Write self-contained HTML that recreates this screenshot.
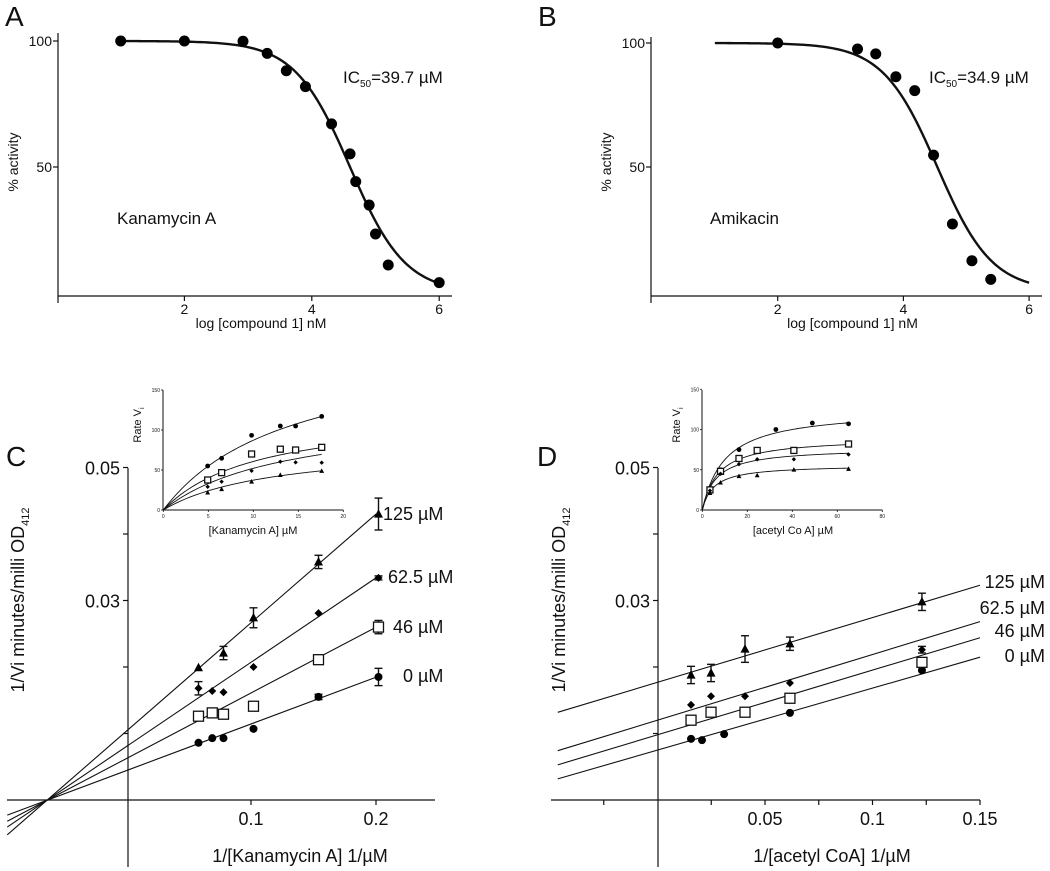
<!DOCTYPE html>
<html><head><meta charset="utf-8"><style>
html,body{margin:0;padding:0;background:#fff;}
svg{display:block;font-family:"Liberation Sans",Arial,sans-serif;}
</style></head>
<body>
<svg id="fig" width="1050" height="871" viewBox="0 0 1050 871" xmlns="http://www.w3.org/2000/svg"></svg>
<script>
// ---------- Panel A data ----------
const aLogConc = [1.0, 2.0, 2.92, 3.30, 3.60, 3.90, 4.31, 4.60, 4.69, 4.90, 5.0, 5.20, 6.0];
const aActivity = [100, 100, 99.9, 95.1, 88.2, 81.9, 67.1, 55.2, 44.2, 34.9, 23.4, 11.1, 4.1];
const aFit = [4.6, 1.0]; // logIC50, hill
// ---------- Panel B data ----------
const bLogConc = [2.0, 3.27, 3.56, 3.88, 4.18, 4.48, 4.78, 5.09, 5.39];
const bActivity = [100, 97.6, 95.6, 86.4, 80.8, 54.8, 27, 12.2, 4.7];
const bFit = [4.54, 1.0];
const dosesXTicks = [2, 4, 6];
const dosesYTicks = [50, 100];
// ---------- Panel C data ----------
const cSeriesNames = ["0 µM", "46 µM", "62.5 µM", "125 µM"];
const cX0 = [0.058, 0.069, 0.078, 0.102, 0.154, 0.202];
const cY0 = [0.0086, 0.0093, 0.0093, 0.0107, 0.0155, 0.0185];
const cE0 = [0, 0, 0, 0, 0.0004, 0.0013];
const cX46 = [0.058, 0.069, 0.078, 0.102, 0.154, 0.202];
const cY46 = [0.0126, 0.0131, 0.0129, 0.0141, 0.0211, 0.026];
const cE46 = [0, 0, 0, 0, 0, 0.001];
const cX62 = [0.058, 0.069, 0.078, 0.102, 0.154, 0.202];
const cY62 = [0.0168, 0.0164, 0.0162, 0.02, 0.0281, 0.0334];
const cE62 = [0.001, 0, 0, 0, 0, 0.0003];
const cX125 = [0.058, 0.078, 0.102, 0.154, 0.202];
const cY125 = [0.0199, 0.0221, 0.0274, 0.0358, 0.043];
const cE125 = [0, 0.001, 0.0015, 0.001, 0.0024];
const cSlopes = [0.0703, 0.0989, 0.127, 0.1635];
const cIntercepts = [0.0044, 0.0062, 0.0080, 0.0103];
// ---------- Panel D data ----------
const dX0 = [0.0156, 0.0207, 0.031, 0.0616, 0.123];
const dY0 = [0.0092, 0.009, 0.0099, 0.0131, 0.0195];
const dX46 = [0.0156, 0.0249, 0.0407, 0.0616, 0.123];
const dY46 = [0.012, 0.0132, 0.0132, 0.0153, 0.0207];
const dX62 = [0.0156, 0.0249, 0.0407, 0.0616, 0.123];
const dY62 = [0.0143, 0.0156, 0.0156, 0.0176, 0.0226];
const dE62 = [0, 0, 0, 0, 0.0005];
const dX125 = [0.0156, 0.0249, 0.0407, 0.0616, 0.123];
const dY125 = [0.0188, 0.0191, 0.0227, 0.0235, 0.0298];
const dE125 = [0.0013, 0.0013, 0.002, 0.001, 0.0013];
const dSlopes = [0.0932, 0.0973, 0.0988, 0.0973];
const dIntercepts = [0.0075, 0.0098, 0.0120, 0.0177];
// ---------- Inset C data ----------
const icX = [4.93, 6.48, 9.81, 13.0, 14.7, 17.6];
const icCircle = [55, 64.6, 93.3, 105, 105, 117];
const icSquare = [37.5, 46.7, 70, 76, 75, 78.3];
const icDiamond = [29, 35.4, 49, 60.4, 59.6, 59.2];
const icTriX = [4.93, 6.48, 9.81, 13.0, 17.6];
const icTri = [21.7, 26, 35.4, 43.7, 48.8];
const icVmax = [211, 125, 124, 83.5];
const icKm = [14.2, 10.6, 13.8, 12.4];
// ---------- Inset D data ----------
const idX = [3.4, 8.1, 16.3, 32.7, 48.9, 65];
const idCircle = [27, 50, 75, 100, 108, 107];
const idSqX = [3.4, 8.1, 16.3, 24.4, 40.7, 65];
const idSquare = [25, 48, 64, 74, 74, 82];
const idX2 = [3.4, 8.1, 16.3, 24.4, 40.7, 65];
const idDiamond = [24, 45, 57, 63, 63, 69];
const idTri = [21, 34, 42, 43, 50, 51];
const idVmax = [125, 90, 77, 56];
const idKm = [10, 7, 6, 5];

const NS = "http://www.w3.org/2000/svg";
const svg = document.getElementById("fig");
function mk(tag, attrs, name, parent) {
  const el = document.createElementNS(NS, tag);
  for (const k in attrs) el.setAttribute(k, attrs[k]);
  
  
  (parent || svg).appendChild(el);
  return el;
}
function txt(x, y, s, size, anchor, name, extra) {
  const t = mk("text", Object.assign({x: x, y: y, "font-size": size, "text-anchor": anchor || "start", fill: "#111"}, extra || {}), name);
  t.textContent = s;
  return t;
}
function line(x1, y1, x2, y2, name, w) {
  return mk("line", {x1: x1, y1: y1, x2: x2, y2: y2, stroke: "#111", "stroke-width": w || 1.2}, name);
}
function marker(type, cx, cy, s, name) {
  if (type === "circle") return mk("circle", {cx: cx, cy: cy, r: s, fill: "#000"}, name);
  if (type === "square") return mk("rect", {x: cx - s, y: cy - s, width: 2 * s, height: 2 * s, fill: "#fff", stroke: "#111", "stroke-width": 1.3}, name);
  if (type === "diamond") return mk("polygon", {points: `${cx},${cy - s} ${cx + s},${cy} ${cx},${cy + s} ${cx - s},${cy}`, fill: "#000"}, name);
  return mk("polygon", {points: `${cx},${cy - s * 1.1} ${cx + s},${cy + s * 0.8} ${cx - s},${cy + s * 0.8}`, fill: "#000"}, name);
}
function pathFrom(fn, x0, x1, X, Y, n, name, w) {
  let d = "";
  for (let i = 0; i <= n; i++) {
    const v = x0 + (x1 - x0) * i / n;
    d += (i ? "L" : "M") + X(v).toFixed(2) + "," + Y(fn(v)).toFixed(2);
  }
  return mk("path", {d: d, fill: "none", stroke: "#111", "stroke-width": w || 1.2}, name);
}

// ================= Panels A & B =================
function dosePanel(p) {
  const X = p.X, Y = p.Y;
  line(p.ax, p.yTop, p.ax, 303, p.id + "-y-axis");
  line(p.ax, 296, p.xEnd, 296, p.id + "-x-axis");
  dosesXTicks.forEach(v => {
    line(X(v), 296, X(v), 301, p.id + "-x-tick");
    txt(X(v), 314, String(v), 14, "middle", p.id + "-x-tick-label");
  });
  dosesYTicks.forEach(v => {
    line(p.ax - 5, Y(v), p.ax, Y(v), p.id + "-y-tick");
    txt(p.ax - 6, Y(v) + 5, String(v), 14, "end", p.id + "-y-tick-label");
  });
  const fit = p.fit;
  pathFrom(v => 100 / (1 + Math.pow(10, fit[1] * (v - fit[0]))), 1, 6, X, Y, 120, p.id + "-fit-curve", 2.4);
  p.xs.forEach((v, i) => marker("circle", X(v), Y(p.ys[i]), 5.5, p.id + "-point"));
  txt(p.ax - 40, 162, "% activity", 14, "middle", p.id + "-y-axis-title", {transform: `rotate(-90 ${p.ax - 40} 162)`});
  txt((p.ax + p.xEnd) / 2 + 6, 328, "log [compound 1] nM", 14, "middle", p.id + "-x-axis-title");
}
dosePanel({id: "panel-a", X: v => 57 + v * 63.7, Y: v => 293 - 2.52 * v, ax: 58, yTop: 33, xEnd: 452, fit: aFit, xs: aLogConc, ys: aActivity});
dosePanel({id: "panel-b", X: v => 652 + v * 62.85, Y: v => 291 - 2.48 * v, ax: 651, yTop: 37, xEnd: 1042, fit: bFit, xs: bLogConc, ys: bActivity});
txt(5, 26, "A", 28, "start", "panel-a-letter");
txt(538, 26, "B", 28, "start", "panel-b-letter");
let t1 = txt(343, 83, "IC", 17, "start", "panel-a-ic50-label");
let s1 = mk("tspan", {"font-size": 10, dy: 4}, "ic50-subscript", t1); s1.textContent = "50";
let r1 = mk("tspan", {dy: -4}, "ic50-value", t1); r1.textContent = "=39.7 µM";
let t2 = txt(929, 83, "IC", 17, "start", "panel-b-ic50-label");
let s2 = mk("tspan", {"font-size": 10, dy: 4}, "ic50-subscript", t2); s2.textContent = "50";
let r2 = mk("tspan", {dy: -4}, "ic50-value", t2); r2.textContent = "=34.9 µM";
txt(117, 224, "Kanamycin A", 17, "start", "panel-a-compound-label");
txt(710, 224, "Amikacin", 17, "start", "panel-b-compound-label");

// ================= Panels C & D =================
const YL = v => 800 - v * 6650;
function lbPanel(p) {
  const X = p.X;
  line(p.ax, 468, p.ax, 867, p.id + "-y-axis");
  line(p.xStart, 800, p.xEnd, 800, p.id + "-x-axis");
  [0.01, 0.02, 0.03, 0.04, 0.05].forEach(v => line(p.ax - 5, YL(v), p.ax, YL(v), p.id + "-y-tick"));
  [0.03, 0.05].forEach(v => txt(p.ax - 8, YL(v) + 7, v.toFixed(2), 18, "end", p.id + "-y-tick-label"));
  p.minor.forEach(v => line(X(v), 800, X(v), 805, p.id + "-x-tick"));
  p.xLabels.forEach((s, i) => txt(X(p.xLabelVals[i]), 825, s, 18, "middle", p.id + "-x-tick-label"));
  for (let i = 0; i < 4; i++) {
    const sl = p.slopes[i], ic = p.ints[i];
    pathFrom(v => ic + sl * v, p.lx0, p.lx1, X, YL, 2, p.id + "-fit-line-" + i, 1.1);
  }
  const types = ["circle", "square", "diamond", "triangle"];
  const sizes = [4, 5, 4, 4.5];
  p.series.forEach((s, k) => {
    s.x.forEach((v, i) => {
      const e = s.e ? s.e[i] : 0;
      if (e > 0) {
        line(X(v), YL(s.y[i] - e), X(v), YL(s.y[i] + e), p.id + "-error-bar", 1.4);
        line(X(v) - 4, YL(s.y[i] + e), X(v) + 4, YL(s.y[i] + e), p.id + "-error-cap", 1.4);
        line(X(v) - 4, YL(s.y[i] - e), X(v) + 4, YL(s.y[i] - e), p.id + "-error-cap", 1.4);
      }
      marker(types[k], X(v), YL(s.y[i]), sizes[k], p.id + "-point-" + k);
    });
  });
  p.labels.forEach((l, i) => txt(l[0], l[1], cSeriesNames[i], 18, p.labelAnchor, p.id + "-series-label"));
  const tyx = p.titleX, tyy = 600;
  const yt = txt(tyx, tyy, "1/Vi minutes/milli OD", 18, "middle", p.id + "-y-axis-title", {transform: `rotate(-90 ${tyx} ${tyy})`});
  const sb = mk("tspan", {"font-size": 11, dy: 5}, "subscript-412", yt); sb.textContent = "412";
  txt(p.xTitleX, 862, p.xTitle, 18, "middle", p.id + "-x-axis-title");
}
lbPanel({id: "panel-c", X: v => 126 + v * 1250, ax: 128, xStart: 7, xEnd: 435,
  minor: [0.1, 0.2], xLabels: ["0.1", "0.2"], xLabelVals: [0.1, 0.2],
  slopes: cSlopes, ints: cIntercepts, lx0: -0.095, lx1: 0.2,
  series: [{x: cX0, y: cY0, e: cE0}, {x: cX46, y: cY46, e: cE46}, {x: cX62, y: cY62, e: cE62}, {x: cX125, y: cY125, e: cE125}],
  labels: [[403, 682], [393, 633], [388, 583], [383, 520]], labelAnchor: "start",
  titleX: 24, xTitle: "1/[Kanamycin A] 1/µM", xTitleX: 300});
lbPanel({id: "panel-d", X: v => 657.5 + v * 2150, ax: 658, xStart: 551, xEnd: 980,
  minor: [-0.025, 0.025, 0.05, 0.075, 0.1, 0.125, 0.15], xLabels: ["0.05", "0.1", "0.15"], xLabelVals: [0.05, 0.1, 0.15],
  slopes: dSlopes, ints: dIntercepts, lx0: -0.0464, lx1: 0.15,
  series: [{x: dX0, y: dY0}, {x: dX46, y: dY46}, {x: dX62, y: dY62, e: dE62}, {x: dX125, y: dY125, e: dE125}],
  labels: [[1045, 662], [1045, 637], [1045, 614], [1045, 588]], labelAnchor: "end",
  titleX: 565, xTitle: "1/[acetyl CoA] 1/µM", xTitleX: 832});
txt(6, 466, "C", 28, "start", "panel-c-letter");
txt(537, 466, "D", 28, "start", "panel-d-letter");

// ================= Insets =================
function inset(p) {
  const X = p.X, Y = p.Y;
  line(p.ax, 390, p.ax, 510, p.id + "-y-axis", 1);
  line(p.ax, 510, X(p.xMax), 510, p.id + "-x-axis", 1);
  [0, 50, 100, 150].forEach(v => {
    line(p.ax - 2, Y(v), p.ax, Y(v), p.id + "-y-tick", 0.8);
    txt(p.ax - 3, Y(v) + 2, String(v), 5, "end", p.id + "-y-tick-label");
  });
  p.xt.forEach(v => {
    line(X(v), 510, X(v), 512, p.id + "-x-tick", 0.8);
    txt(X(v), 518, String(v), 5, "middle", p.id + "-x-tick-label");
  });
  for (let i = 0; i < 4; i++) {
    const vm = p.vmax[i], km = p.km[i];
    pathFrom(v => vm * v / (km + v), 0, p.cEnd, X, Y, 60, p.id + "-mm-curve-" + i, 0.9);
  }
  const types = ["circle", "square", "diamond", "triangle"];
  const sz = [2.4, 3, 2.2, 2.4];
  p.series.forEach((s, k) => s.x.forEach((v, i) => marker(types[k], X(v), Y(s.y[i]), sz[k], p.id + "-point-" + k)));
  const rx = p.ax - 22, ry = 425;
  const rt = txt(rx, ry, "Rate V", 11, "middle", p.id + "-y-axis-title", {transform: `rotate(-90 ${rx} ${ry})`});
  const sb = mk("tspan", {"font-size": 7, dy: 3}, "subscript-i", rt); sb.textContent = "i";
  txt(p.labX, 534, p.xTitle, 11, "middle", p.id + "-x-axis-title");
}
inset({id: "inset-c", X: v => 163.3 + 9 * v, Y: v => 510 - 0.8 * v, ax: 163, xMax: 20, xt: [0, 5, 10, 15, 20],
  vmax: icVmax, km: icKm, cEnd: 17.6,
  series: [{x: icX, y: icCircle}, {x: icX, y: icSquare}, {x: icX, y: icDiamond}, {x: icTriX, y: icTri}],
  labX: 253, xTitle: "[Kanamycin A] µM"});
inset({id: "inset-d", X: v => 702.3 + 2.25 * v, Y: v => 510 - 0.805 * v, ax: 702, xMax: 80, xt: [0, 20, 40, 60, 80],
  vmax: idVmax, km: idKm, cEnd: 65,
  series: [{x: idX, y: idCircle}, {x: idSqX, y: idSquare}, {x: idX2, y: idDiamond}, {x: idX2, y: idTri}],
  labX: 793, xTitle: "[acetyl Co A] µM"});
</script>
</body></html>
